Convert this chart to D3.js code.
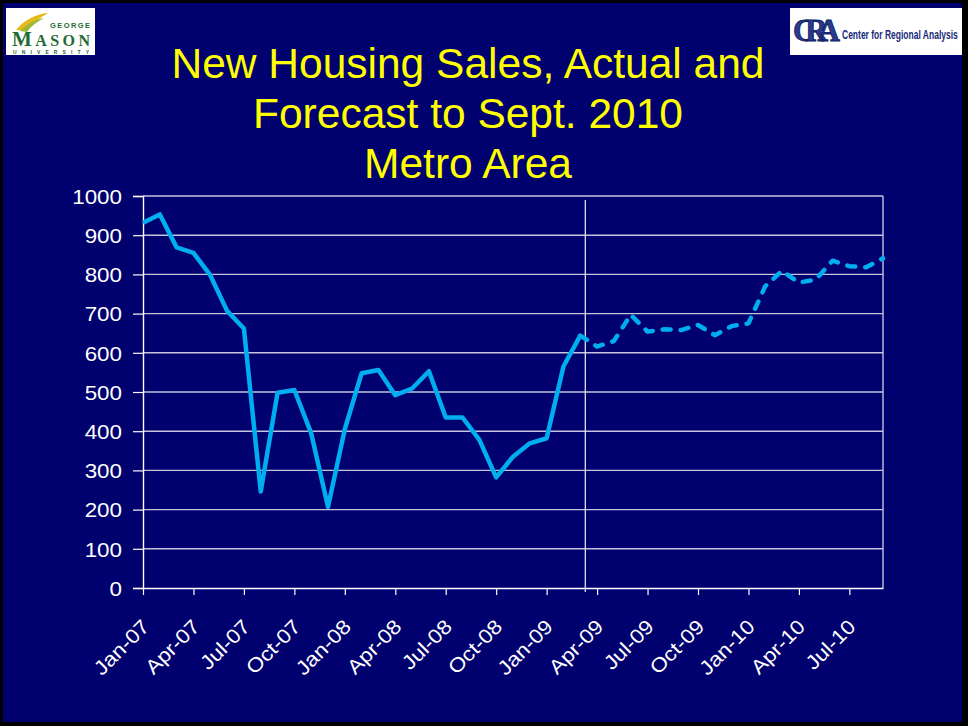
<!DOCTYPE html>
<html><head><meta charset="utf-8">
<script src="https://cdn.jsdelivr.net/npm/d3@7"></script>
<style>html,body{margin:0;padding:0;background:#000;}svg{display:block;}</style>
</head><body>
<svg id="c" width="968" height="726"></svg>
<script>
// ---- data ----
const months = ["Jan-07","Feb-07","Mar-07","Apr-07","May-07","Jun-07","Jul-07","Aug-07","Sep-07","Oct-07","Nov-07","Dec-07",
"Jan-08","Feb-08","Mar-08","Apr-08","May-08","Jun-08","Jul-08","Aug-08","Sep-08","Oct-08","Nov-08","Dec-08",
"Jan-09","Feb-09","Mar-09","Apr-09","May-09","Jun-09","Jul-09","Aug-09","Sep-09","Oct-09","Nov-09","Dec-09",
"Jan-10","Feb-10","Mar-10","Apr-10","May-10","Jun-10","Jul-10","Aug-10","Sep-10"];
const actual = [932,953,869,855,798,707,662,246,498,505,395,207,
405,548,556,492,509,553,435,435,378,282,335,369,382,565,644];
const forecastStart = "Mar-09";
const forecast = [644,616,630,697,654,660,658,671,645,668,675,770,809,779,787,835,821,818,841];
const tickLabels = ["Jan-07","Apr-07","Jul-07","Oct-07","Jan-08","Apr-08","Jul-08","Oct-08","Jan-09","Apr-09","Jul-09","Oct-09","Jan-10","Apr-10","Jul-10"];
const yTicks = [0,100,200,300,400,500,600,700,800,900,1000];
const titleLines = ["New Housing Sales, Actual and","Forecast to Sept. 2010","Metro Area"];
const dividerAt = 26.3; // month index of vertical divider

// ---- layout ----
const FONT = "Liberation Sans, Arial, sans-serif";
const svg = d3.select("#c");
svg.append("rect").attr("x",0).attr("y",0).attr("width",968).attr("height",726).attr("fill","#000");
svg.append("rect").attr("x",3).attr("y",3).attr("width",959).attr("height",719).attr("fill","#00006E");

const L=143,R=883,T=196,B=588;
const x = d3.scalePoint().domain(months).range([L,R]);
const y = d3.scaleLinear().domain([0,1000]).range([B,T]);

// gridlines
svg.append("g").selectAll("line").data(yTicks.filter(d=>d>0)).join("line")
  .attr("x1",L).attr("x2",R).attr("y1",d=>y(d)).attr("y2",d=>y(d))
  .attr("stroke","#c4c4dc").attr("stroke-width",1.4);
// right border
svg.append("line").attr("x1",R).attr("x2",R).attr("y1",T).attr("y2",B).attr("stroke","#c4c4dc").attr("stroke-width",1.4);

// y axis
const SX = 1.12;
const yAx = svg.append("g").attr("transform",`translate(${L},0)`)
  .call(d3.axisLeft(y).tickValues(yTicks).tickSize(10).tickFormat(d3.format("d")));
yAx.select(".domain").attr("stroke","#fff").attr("stroke-width",1.4);
yAx.selectAll(".tick line").attr("stroke","#fff").attr("stroke-width",1.2);
yAx.selectAll("text").attr("fill","#fff").attr("font-family",FONT).attr("font-size",20)
  .attr("x",-21/SX).attr("dy","0.36em").attr("transform",`scale(${SX},1)`);

// x axis
const xAx = svg.append("g").attr("transform",`translate(0,${B})`)
  .call(d3.axisBottom(x).tickValues(tickLabels).tickSize(7).tickSizeOuter(0));
xAx.select(".domain").attr("stroke","#fff").attr("stroke-width",1.4);
xAx.selectAll(".tick line").attr("stroke","#fff").attr("stroke-width",1.2);
xAx.selectAll("text").attr("fill","#fff").attr("font-family",FONT).attr("font-size",20)
  .attr("text-anchor","end").attr("x",0).attr("y",0).attr("dy",0)
  .attr("transform",`translate(7,40) rotate(-45) scale(${SX},1)`);

// divider
const step = x.step();
const xd = L + dividerAt*step;
svg.append("line").attr("x1",xd).attr("x2",xd).attr("y1",200).attr("y2",B+4).attr("stroke","#e0e0f0").attr("stroke-width",1.3);

// lines
const lineGen = d3.line().x(d=>x(d[0])).y(d=>y(d[1]));
const actData = actual.map((v,i)=>[months[i],v]);
const fi = months.indexOf(forecastStart);
const fcData = forecast.map((v,i)=>[months[fi+i],v]);
svg.append("path").datum(actData).attr("d",lineGen).attr("fill","none")
  .attr("stroke","#00AEEF").attr("stroke-width",4.5).attr("stroke-linejoin","round");
svg.append("path").datum(fcData).attr("d",lineGen).attr("fill","none")
  .attr("stroke","#00AEEF").attr("stroke-width",4.5).attr("stroke-linejoin","round")
  .attr("stroke-linecap","round").attr("stroke-dasharray","8,10");

// title
svg.append("g").selectAll("text").data(titleLines).join("text")
  .attr("x",468).attr("y",(d,i)=>78+i*50).attr("text-anchor","middle")
  .attr("fill","#FFFF00").attr("font-family",FONT).attr("font-size",42.5)
  .text(d=>d);

// GMU logo
const g1 = svg.append("g");
g1.append("rect").attr("x",6).attr("y",8).attr("width",89).attr("height",47).attr("fill","#fff");
g1.append("path").attr("d","M16,30 C24,20 36,14 48,13 C40,18 32,23 26,31 Z").attr("fill","#E8B818");
g1.append("path").attr("d","M20,31 C27,24 36,19 44,18 C37,22 31,26 27,32 Z").attr("fill","#9BB83A");
g1.append("text").attr("x",50).attr("y",28).attr("font-family",FONT).attr("font-weight","bold")
  .attr("font-size",7.5).attr("fill","#1E6B35").attr("textLength",40).text("GEORGE");
g1.append("text").attr("x",12).attr("y",46).attr("font-family","Liberation Serif, serif").attr("font-weight","bold")
  .attr("fill","#1E6B35").attr("textLength",78)
  .call(t=>{t.append("tspan").attr("font-size",21).text("M");t.append("tspan").attr("font-size",16).text("ASON");});
g1.append("text").attr("x",13).attr("y",54).attr("font-family",FONT).attr("font-weight","bold")
  .attr("font-size",5).attr("fill","#1E6B35").attr("textLength",76).text("UNIVERSITY");

// CRA logo
const g2 = svg.append("g");
g2.append("rect").attr("x",790).attr("y",8).attr("width",172).attr("height",47).attr("fill","#fff");
g2.append("text").attr("x",793).attr("y",41).attr("font-family","Liberation Serif, serif").attr("font-weight","bold")
  .attr("font-size",31).attr("fill","#2A3A8C").attr("stroke","#0A1A60").attr("stroke-width",0.8).attr("textLength",47).text("CRA");
const craT = g2.append("text").attr("x",0).attr("y",0).attr("font-family",FONT).attr("font-weight","bold")
  .attr("font-size",13).attr("fill","#1A2A7A").text("Center for Regional Analysis");
const craW = craT.node().getComputedTextLength();
craT.attr("transform",`translate(842,39) scale(${116/craW},1)`);
</script>
</body></html>
